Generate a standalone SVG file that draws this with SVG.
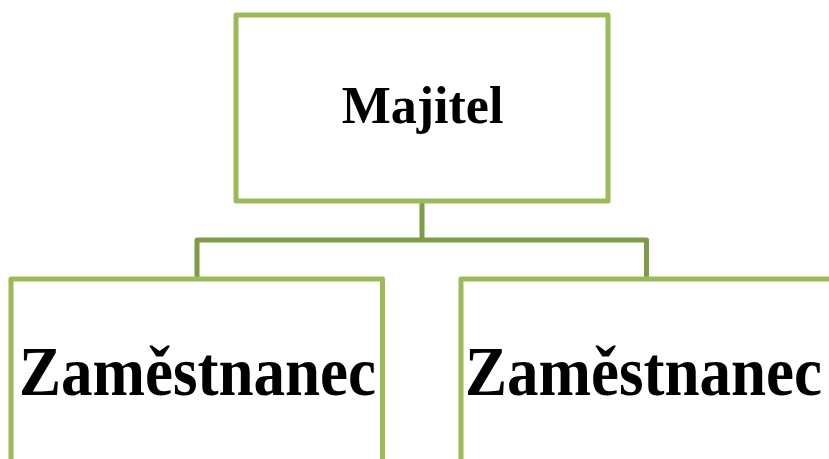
<svg xmlns="http://www.w3.org/2000/svg" width="829" height="459" viewBox="0 0 829 459">
<style>
.box{fill:#ffffff;stroke:#9BBB59;stroke-width:5;stroke-linejoin:round}
.conn{fill:none;stroke:#7F9A48;stroke-width:5;stroke-linejoin:round}
.t{font-family:"Liberation Serif","Times New Roman",serif;font-weight:bold;fill:#000;text-anchor:middle}
</style>
<rect width="829" height="459" fill="#ffffff"/>
<g id="connectors">
<path class="conn" d="M422,201 V240 M197,279 V240 H646.5 V279"/>
</g>
<g id="majitel">
<rect class="box" x="236" y="15" width="372" height="186"/>
<text class="t" x="422.5" y="122.5" font-size="52">Majitel</text>
</g>
<g id="zamestnanec1">
<rect class="box" x="11" y="279" width="371.5" height="186"/>
<text class="t" x="197.5" y="394.5" font-size="70" textLength="357" lengthAdjust="spacingAndGlyphs">Zaměstnanec</text>
</g>
<g id="zamestnanec2">
<rect class="box" x="461" y="279" width="371.5" height="186"/>
<text class="t" x="643.5" y="394.5" font-size="70" textLength="357" lengthAdjust="spacingAndGlyphs">Zaměstnanec</text>
</g>
</svg>
